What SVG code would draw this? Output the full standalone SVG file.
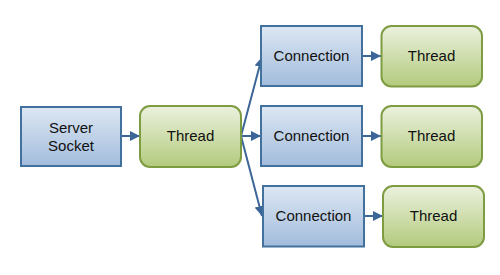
<svg xmlns="http://www.w3.org/2000/svg" width="500" height="275" viewBox="0 0 500 275">
<defs>
<linearGradient id="gb" x1="0" y1="0" x2="0" y2="1">
<stop offset="0" stop-color="#dde7f3"/>
<stop offset="1" stop-color="#a2bcdc"/>
</linearGradient>
<linearGradient id="gg" x1="0" y1="0" x2="0" y2="1">
<stop offset="0" stop-color="#ebf1de"/>
<stop offset="1" stop-color="#b3ca7c"/>
</linearGradient>
<marker id="ah" markerWidth="10" markerHeight="10" viewBox="0 0 10 10" refX="10" refY="5" orient="auto" markerUnits="userSpaceOnUse">
<path d="M0,0 L10,5 L0,10 z" fill="#3c6697"/>
</marker>
<style>
.blue{fill:url(#gb);stroke:#41719c;stroke-width:2}
.green{fill:url(#gg);stroke:#7e9c41;stroke-width:2}
text{font-family:"Liberation Sans",Arial,sans-serif;font-size:15px;fill:#111;text-anchor:middle}
.c{fill:none;stroke:#3c6697;stroke-width:2;marker-end:url(#ah)}
</style>
</defs>
<g id="connectors">
<path class="c" d="M121,136 L140,136"/>
<path class="c" d="M241,136 L262,57"/>
<path class="c" d="M241,136 L261,136"/>
<path class="c" d="M241,136 L262,216"/>
<path class="c" d="M362,56 L381,56"/>
<path class="c" d="M362,136 L381,136"/>
<path class="c" d="M364,216 L383,216"/>
</g>
<g id="server-socket"><rect class="blue" x="21" y="107" width="100" height="59"/><text x="71" y="133">Server</text><text x="71" y="151">Socket</text></g>
<g id="thread-main"><rect class="green" x="140" y="106" width="101" height="61" rx="10"/><text x="190.5" y="141">Thread</text></g>
<g id="connection-1"><rect class="blue" x="261" y="26" width="101" height="60"/><text x="311.5" y="61">Connection</text></g>
<g id="thread-1"><rect class="green" x="381.5" y="26" width="100.5" height="60.5" rx="10"/><text x="431.5" y="61">Thread</text></g>
<g id="connection-2"><rect class="blue" x="261" y="106" width="101" height="60"/><text x="311.5" y="141">Connection</text></g>
<g id="thread-2"><rect class="green" x="381.5" y="106" width="100.5" height="61" rx="10"/><text x="431.5" y="141">Thread</text></g>
<g id="connection-3"><rect class="blue" x="263" y="186" width="101" height="60.5"/><text x="313.5" y="221">Connection</text></g>
<g id="thread-3"><rect class="green" x="383" y="186" width="101" height="61" rx="10"/><text x="433.5" y="221">Thread</text></g>
</svg>
